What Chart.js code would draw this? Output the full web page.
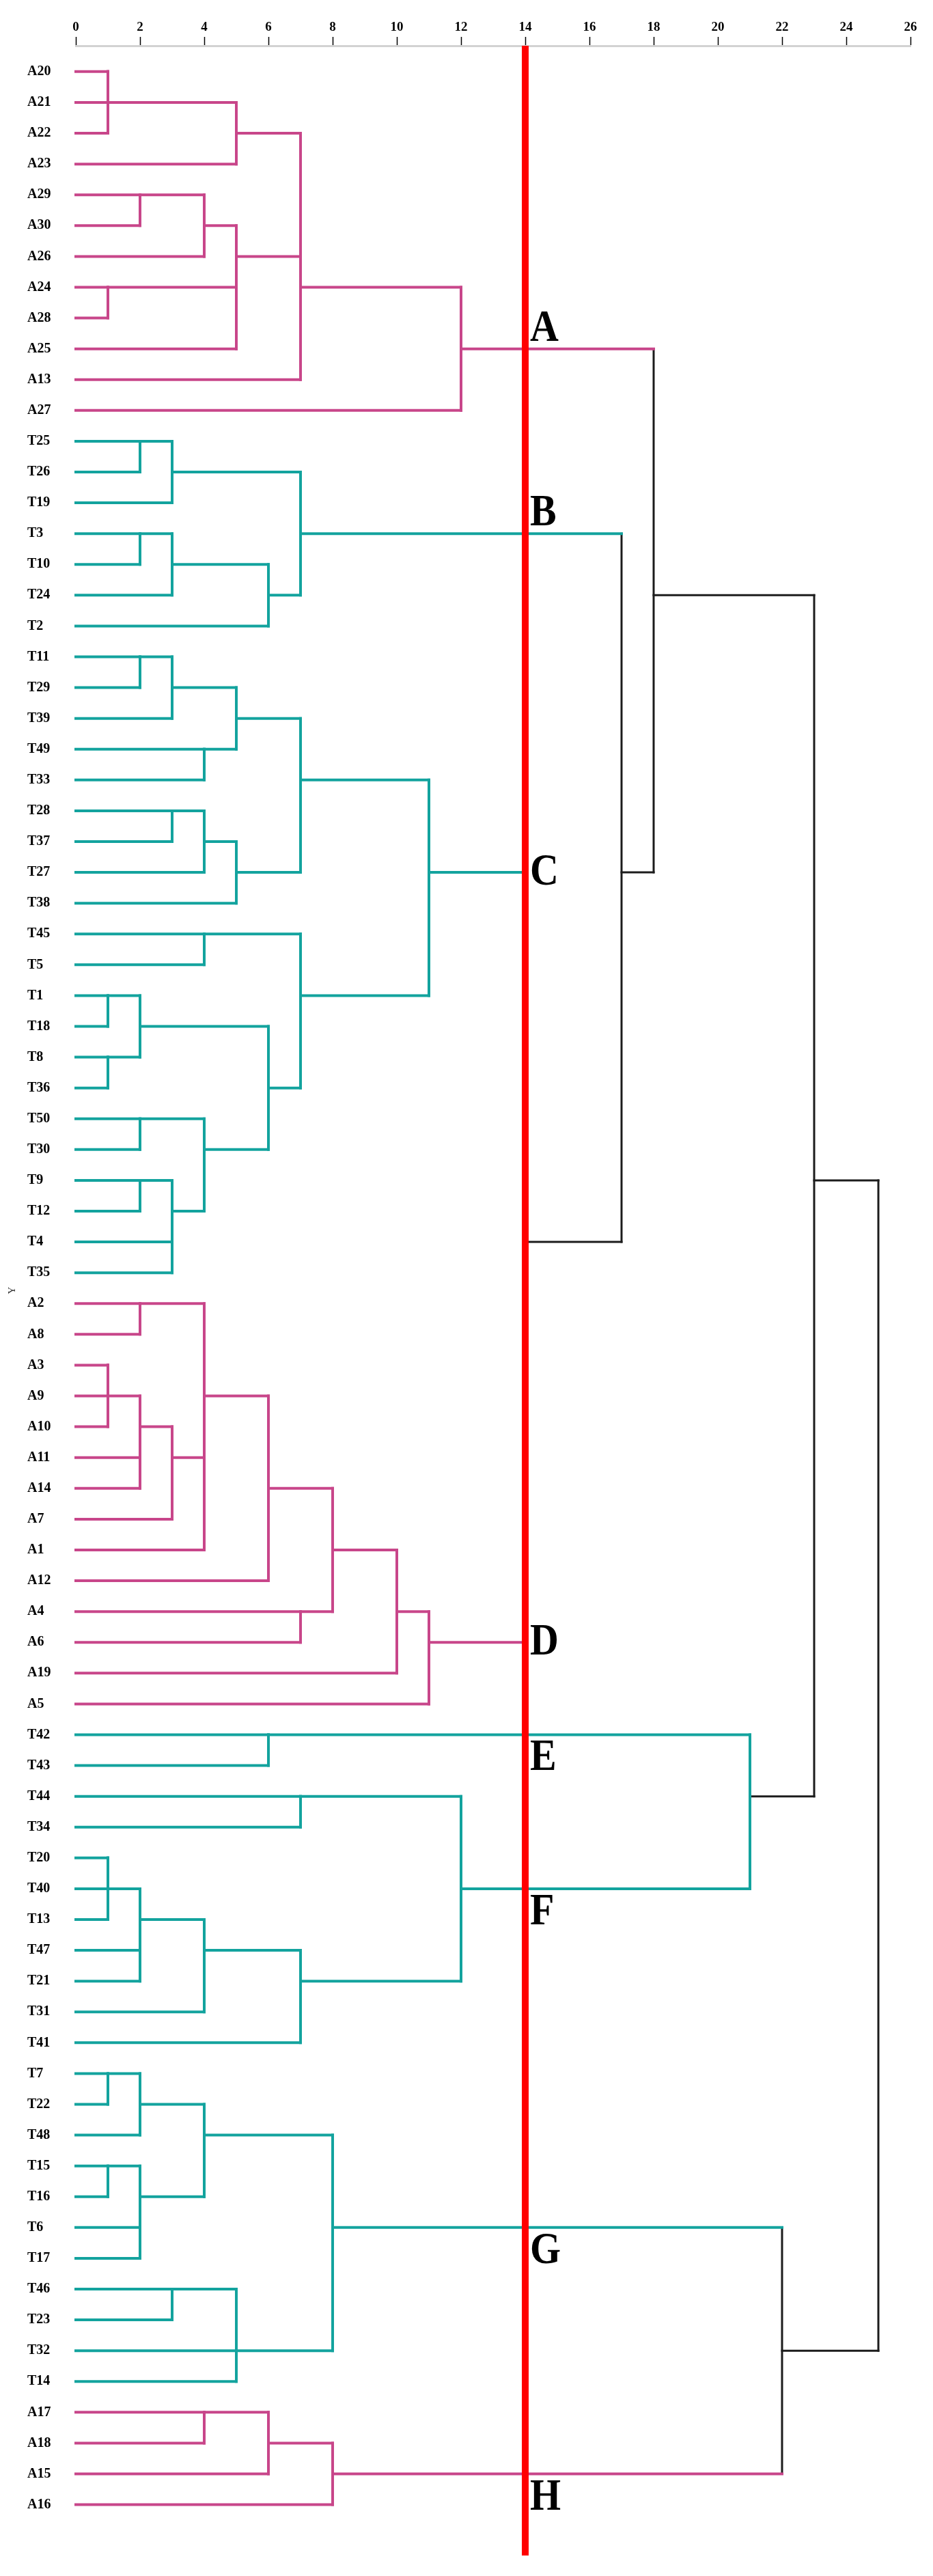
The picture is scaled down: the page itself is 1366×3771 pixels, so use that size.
<!DOCTYPE html>
<html>
<head>
<meta charset="utf-8">
<script src="https://cdn.jsdelivr.net/npm/chart.js@4.4.0/dist/chart.umd.min.js"></script>
<style>
    body { margin: 0; background: #fff; }
    #wrap { width: 1366px; height: 3771px; }
</style>
</head>
<body>
<div id="wrap"><canvas id="dendro"></canvas></div>
<script>
// leaves, top to bottom
const leafNames = [
    'A20', 'A21', 'A22', 'A23', 'A29', 'A30', 'A26', 'A24', 'A28', 'A25', 'A13', 'A27',
    'T25', 'T26', 'T19', 'T3', 'T10', 'T24', 'T2',
    'T11', 'T29', 'T39', 'T49', 'T33', 'T28', 'T37', 'T27', 'T38', 'T45', 'T5',
    'T1', 'T18', 'T8', 'T36', 'T50', 'T30', 'T9', 'T12', 'T4', 'T35',
    'A2', 'A8', 'A3', 'A9', 'A10', 'A11', 'A14', 'A7', 'A1', 'A12', 'A4', 'A6', 'A19', 'A5',
    'T42', 'T43',
    'T44', 'T34', 'T20', 'T40', 'T13', 'T47', 'T21', 'T31', 'T41',
    'T7', 'T22', 'T48', 'T15', 'T16', 'T6', 'T17', 'T46', 'T23', 'T32', 'T14',
    'A17', 'A18', 'A15', 'A16'
];

// merges: a string is a leaf, a number is an earlier merge
const mergeLeft = [
    'A20', 0, 1, 'A29', 3, 'A24', 5, 4, 2, 8, 9,
    'T25', 11, 'T3', 13, 14, 12,
    'T11', 17, 'T49', 18, 'T28', 21, 22, 20, 'T45', 'T1', 'T8', 26, 'T50', 'T9', 'T4', 30, 29, 28, 25, 24,
    'A2', 'A3', 38, 'A11', 39, 41, 42, 37, 44, 'A4', 45, 47, 48,
    'T42',
    'T44', 'T20', 52, 'T47', 53, 55, 56, 51,
    'T7', 59, 'T15', 'T6', 61, 60, 'T46', 65, 66, 64,
    'A17', 69, 70,
    36, 16, 10, 50, 74, 68, 76
];
const mergeRight = [
    'A21', 'A22', 'A23', 'A30', 'A26', 'A28', 'A25', 6, 7, 'A13', 'A27',
    'T26', 'T19', 'T10', 'T24', 'T2', 15,
    'T29', 'T39', 'T33', 19, 'T37', 'T27', 'T38', 23, 'T5', 'T18', 'T36', 27, 'T30', 'T12', 'T35', 31, 32, 33, 34, 35,
    'A8', 'A9', 'A10', 'A14', 40, 'A7', 'A1', 43, 'A12', 'A6', 46, 'A19', 'A5',
    'T43',
    'T34', 'T40', 'T13', 'T21', 54, 'T31', 'T41', 57,
    'T22', 'T48', 'T16', 'T17', 62, 63, 'T23', 'T32', 'T14', 67,
    'A18', 'A15', 'A16',
    49, 72, 73, 58, 75, 71, 77
];
const mergeHeight = [
    1, 1, 5, 2, 4, 1, 5, 5, 7, 7, 12,
    2, 3, 2, 3, 6, 7,
    2, 3, 4, 5, 3, 4, 5, 7, 4, 1, 1, 2, 2, 2, 3, 3, 4, 6, 7, 11,
    2, 1, 1, 2, 2, 3, 4, 4, 6, 7, 8, 10, 11,
    6,
    7, 1, 1, 2, 2, 4, 7, 12,
    1, 2, 1, 2, 2, 4, 3, 5, 5, 8,
    4, 6, 8,
    14, 17, 18, 21, 23, 22, 25
];

const clusterNames = ['A', 'B', 'C', 'D', 'E', 'F', 'G', 'H'];
const clusterNodes = [10, 16, 36, 49, 50, 58, 68, 71];
const cutHeight = 14;
const xTicks = [0, 2, 4, 6, 8, 10, 12, 14, 16, 18, 20, 22, 24, 26];

const colorOf = { A: '#c8468a', T: '#13a39e', mixed: '#1c1c1c' };

// build the link segments
const rowOf = {};
leafNames.forEach((n, i) => rowOf[n] = i);
const nodes = [];
const segments = [];

function nodeInfo(ref) {
    if (typeof ref === 'string') return { h: 0, y: rowOf[ref], type: ref[0] };
    return nodes[ref];
}

mergeLeft.forEach((l, i) => {
    const a = nodeInfo(l);
    const b = nodeInfo(mergeRight[i]);
    const h = mergeHeight[i];
    const type = a.type === b.type ? a.type : 'mixed';
    nodes.push({ h: h, y: Math.floor((a.y + b.y) / 2), type: type });
    [a, b].forEach(c => {
        const col = (c.type !== 'mixed' && c.h <= cutHeight) ? colorOf[c.type] : colorOf.mixed;
        segments.push({ x1: c.h, y1: c.y, x2: h, y2: c.y, color: col, w: col === colorOf.mixed ? 3 : 4 });
    });
    segments.push({ x1: h, y1: a.y, x2: h, y2: b.y, color: colorOf[type], w: type === 'mixed' ? 3 : 4 });
});

const yMin = -0.84, yMax = 80.65;

const datasets = segments.map(s => ({
    data: [{ x: s.x1, y: s.y1 }, { x: s.x2, y: s.y2 }],
    showLine: true,
    borderColor: s.color,
    borderWidth: s.w,
    borderCapStyle: 'square',
    pointRadius: 0,
    fill: false,
    order: 1,
}));

datasets.push({
    data: [{ x: cutHeight, y: yMin }, { x: cutHeight, y: yMax }],
    showLine: true,
    borderColor: '#ff0000',
    borderWidth: 10,
    pointRadius: 0,
    order: 0,
});

const labelPlace = ['above', 'above', 'center', 'center', 'below', 'below', 'below', 'below'];

const clusterLabels = {
    id: 'clusterLabels',
    afterDatasetsDraw(chart) {
        const { ctx, scales: { x, y }, chartArea } = chart;
        const shift = { above: -12, center: 18, below: 52 };
        ctx.fillStyle = '#000';
        clusterNodes.forEach((n, i) => {
            const px = x.getPixelForValue(cutHeight) + 7;
            const py = y.getPixelForValue(nodes[n].y) + shift[labelPlace[i]];
            ctx.save();
            ctx.translate(px, py);
            ctx.scale(1, 1.12);
            ctx.font = 'bold 58px "Liberation Serif"';
            ctx.textAlign = 'left';
            ctx.textBaseline = 'alphabetic';
            ctx.fillText(clusterNames[i], 0, 0);
            ctx.restore();
        });
        ctx.save();
        ctx.translate(18, (chartArea.top + chartArea.bottom) / 2 - 15);
        ctx.rotate(-Math.PI / 2);
        ctx.font = '15px "Liberation Serif"';
        ctx.fillStyle = '#333';
        ctx.textAlign = 'center';
        ctx.textBaseline = 'middle';
        ctx.fillText('Y', 0, 0);
        ctx.restore();
    }
};

new Chart(document.getElementById('dendro'), {
    type: 'scatter',
    data: { datasets: datasets },
    options: {
        responsive: true,
        maintainAspectRatio: false,
        animation: false,
        clip: false,
        layout: { padding: { left: 40, right: 33, top: 0, bottom: 30 } },
        plugins: {
            legend: { display: false },
            tooltip: { enabled: false },
        },
        scales: {
            x: {
                type: 'linear',
                position: 'top',
                min: 0,
                max: 26,
                afterFit: s => { s.height = 67; },
                afterBuildTicks: s => { s.ticks = xTicks.map(v => ({ value: v })); },
                ticks: {
                    padding: 3,
                    color: '#000',
                    font: { family: 'Liberation Serif', weight: 'bold', size: 19 },
                },
                grid: {
                    drawOnChartArea: false,
                    drawTicks: true,
                    tickLength: 13,
                    tickColor: '#000',
                    tickWidth: 1.5,
                },
                border: { display: true, color: '#d2d2d2', width: 3 },
            },
            y: {
                type: 'linear',
                reverse: true,
                min: yMin,
                max: yMax,
                afterFit: s => { s.width = 71; },
                afterBuildTicks: s => { s.ticks = leafNames.map((n, i) => ({ value: i })); },
                ticks: {
                    autoSkip: false,
                    crossAlign: 'far',
                    padding: 0,
                    color: '#000',
                    font: { family: 'Liberation Serif', weight: 'bold', size: 20 },
                    callback: v => leafNames[v],
                },
                grid: { display: false, drawTicks: false },
                border: { display: false },
            }
        }
    },
    plugins: [clusterLabels]
});
</script>
</body>
</html>
